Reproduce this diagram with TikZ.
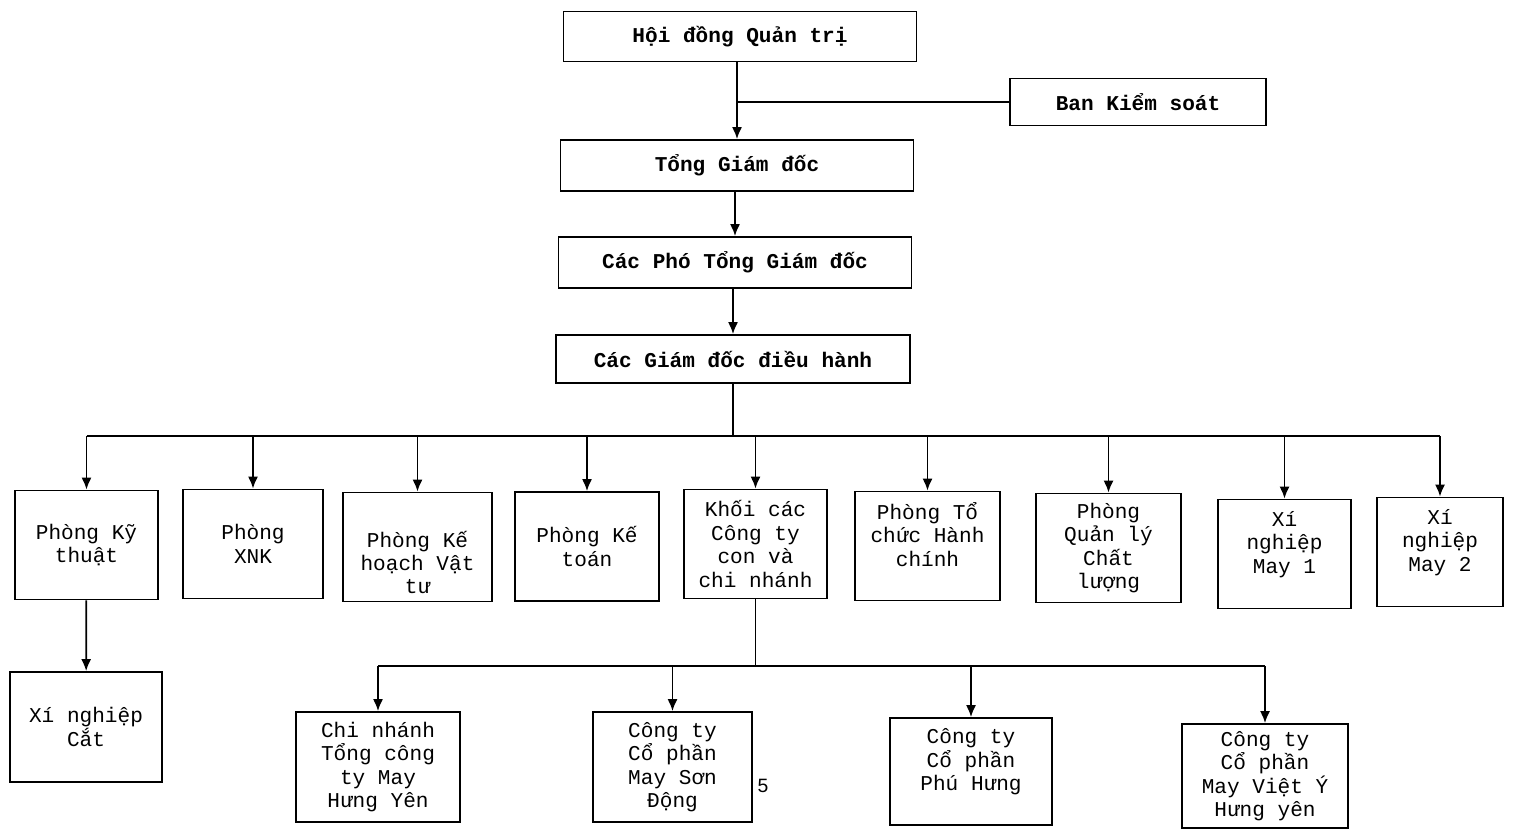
\documentclass[tikz,border=0pt]{standalone}
\usepackage{fontspec}
\setmainfont{Liberation Mono}
\newfontfamily\pagefont{Liberation Sans}
\usetikzlibrary{arrows.meta}

\begin{document}
\begin{tikzpicture}[x=0.02cm, y=-0.02cm,
    box/.style={draw, line width=1pt, align=center, inner sep=0pt, font=\fontsize{12}{13.3}\selectfont},
    head/.style={box, minimum width=7.06cm, minimum height=1cm, font=\fontsize{12}{13.3}\selectfont\bfseries},
    unit/.style={box, minimum height=2.18cm},
    >={Latex[length=2.4mm, width=2mm]}]
    \useasboundingbox (0,0) rectangle (1513,831);

    % Define the nodes
    \node[head] (hdqt) at (740, 36.5) {Hội đồng Quản trị};
    \node[head, minimum width=5.12cm, minimum height=0.94cm] (bks) at (1138, 102) {Ban Kiểm soát};
    \node[head, minimum height=1.02cm] (tgd) at (737, 165.5) {Tổng Giám đốc};
    \node[head, minimum height=1.02cm] (pho) at (735, 262.5) {Các Phó Tổng Giám đốc};
    \node[head, minimum width=7.08cm, minimum height=0.96cm] (gddh) at (733, 359) {Các Giám đốc điều hành};

    \node[unit, minimum width=2.86cm] (kt) at (86.5, 545) {Phòng Kỹ\\thuật};
    \node[unit, minimum width=2.8cm] (xnk) at (253, 544) {Phòng\\XNK};
    \node[unit, minimum width=2.98cm] (khvt) at (417.5, 547) {\rule{0pt}{27pt}Phòng Kế\\hoạch Vật\\tư};
    \node[unit, minimum width=2.88cm] (ketoan) at (587, 546.5) {Phòng Kế\\toán};
    \node[unit, minimum width=2.86cm] (khoi) at (755.5, 544) {Khối các\\Công ty\\con và\\chi nhánh};
    \node[unit, minimum width=2.9cm] (tchc) at (927.5, 546) {Phòng Tổ\\chức Hành\\chính\\~};
    \node[unit, minimum width=2.9cm] (qlcl) at (1108.5, 548) {Phòng\\Quản lý\\Chất\\lượng};
    \node[unit, minimum width=2.66cm] (xn1) at (1284.5, 554) {Xí\\nghiệp\\May 1\\~};
    \node[unit, minimum width=2.52cm] (xn2) at (1440, 552) {Xí\\nghiệp\\May 2\\~};

    \node[unit, minimum width=3.04cm, minimum height=2.2cm] (xnc) at (86, 727) {Xí nghiệp\\Cắt};
    \node[unit, minimum width=3.28cm, minimum height=2.2cm] (cn) at (378, 767) {Chi nhánh\\Tổng công\\ty May\\Hưng Yên};
    \node[unit, minimum width=3.18cm, minimum height=2.2cm] (sd) at (672.5, 767) {Công ty\\Cổ phần\\May Sơn\\Động};
    \node[unit, minimum width=3.24cm, minimum height=2.14cm] (ph) at (971, 771.5) {Công ty\\Cổ phần\\Phú Hưng\\~};
    \node[unit, minimum width=3.32cm, minimum height=2.08cm] (vy) at (1265, 776) {Công ty\\Cổ phần\\May Việt Ý\\Hưng yên};

    \node[font=\pagefont\fontsize{11}{12}\selectfont] (page) at (763, 786) {5};

    \coordinate (bus1) at (733, 436);
    \coordinate (bus2) at (758, 666);

    % Draw the edges
    \draw[line width=1pt, ->] (tgd.north |- hdqt.south) -- (tgd.north);
    \draw[line width=1pt] (bks.west) -- (bks.west -| tgd.north);
    \draw[line width=1pt, ->] (pho.north |- tgd.south) -- (pho.north);
    \draw[line width=1pt, ->] (gddh.north |- pho.south) -- (gddh.north);

    \draw[line width=1pt] (gddh.south) -- (gddh.south |- bus1);
    \draw[line width=1pt] (kt.north |- bus1) -- (xn2.north |- bus1);
    \draw[line width=1pt, ->] (kt.north |- bus1) -- (kt.north);
    \draw[line width=1pt, ->] (xnk.north |- bus1) -- (xnk.north);
    \draw[line width=1pt, ->] (khvt.north |- bus1) -- (khvt.north);
    \draw[line width=1pt, ->] (ketoan.north |- bus1) -- (ketoan.north);
    \draw[line width=1pt, ->] (khoi.north |- bus1) -- (khoi.north);
    \draw[line width=1pt, ->] (tchc.north |- bus1) -- (tchc.north);
    \draw[line width=1pt, ->] (qlcl.north |- bus1) -- (qlcl.north);
    \draw[line width=1pt, ->] (xn1.north |- bus1) -- (xn1.north);
    \draw[line width=1pt, ->] (xn2.north |- bus1) -- (xn2.north);

    \draw[line width=1pt, ->] (kt) -- (xnc);

    \draw[line width=1pt] (khoi.south) -- (khoi.south |- bus2);
    \draw[line width=1pt] (cn.north |- bus2) -- (vy.north |- bus2);
    \draw[line width=1pt, ->] (cn.north |- bus2) -- (cn.north);
    \draw[line width=1pt, ->] (sd.north |- bus2) -- (sd.north);
    \draw[line width=1pt, ->] (ph.north |- bus2) -- (ph.north);
    \draw[line width=1pt, ->] (vy.north |- bus2) -- (vy.north);
\end{tikzpicture}
\end{document}
